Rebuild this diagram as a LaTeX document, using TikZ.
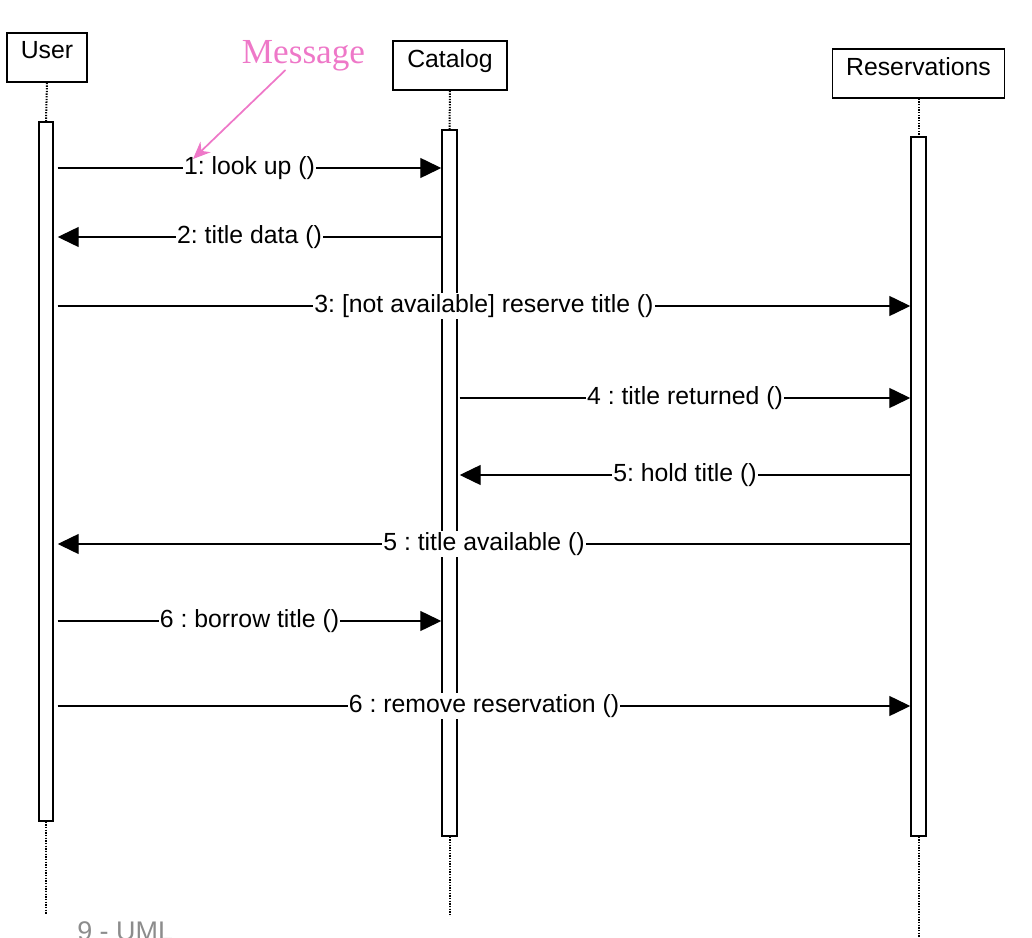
\documentclass[tikz,border=0pt]{standalone}
\usepackage{fontspec}
\setmainfont{Liberation Sans}
\newfontfamily\notefont{Liberation Serif}
\usetikzlibrary{arrows.meta}
\frenchspacing
\definecolor{notepink}{RGB}{238,120,200}
\definecolor{footgray}{RGB}{140,140,140}
\tikzset{
  objbox/.style={draw, line width=1.2pt, minimum height=36.75pt, inner sep=0pt},
  objtitle/.style={anchor=north, inner sep=0pt, yshift=-7pt, font=\fontsize{18.6}{22}\selectfont},
  actbar/.style={draw, fill=white, line width=1.1pt, inner sep=0pt},
  lifeline/.style={line width=1.5pt, dash pattern=on 1pt off 1pt},
  msg/.style={line width=1.05pt, -{Triangle[length=15.75pt,width=15pt]}},
  lbl/.style={fill=white, inner sep=1pt, font=\fontsize{18.6}{22}\selectfont},
  note/.style={draw=notepink, line width=1.3pt, -{Stealth[length=13pt,width=11pt]}}
}
\begin{document}
\begin{tikzpicture}[x=0.75pt,y=-0.75pt]
\useasboundingbox (0,0) rectangle (1032,938);
% objects
\node[objbox, minimum width=60pt] (user) at (47,57.5) {};
\node[objtitle] (usert) at (user.north) {User};
\node[objbox, minimum width=85.5pt] (cat) at (450,65.5) {};
\node[objtitle] (catt) at (cat.north) {Catalog};
\node[objbox, minimum width=129pt] (res) at (918.5,73.5) {};
\node[objtitle] (rest) at (res.north) {Reservations};
% activation bars
\node[actbar, minimum width=10.5pt, minimum height=524.25pt] (userbar) at (46,471.5) {};
\node[actbar, minimum width=11.25pt, minimum height=529.5pt] (catbar) at (449.5,483) {};
\node[actbar, minimum width=11.25pt, minimum height=524.25pt] (resbar) at (918.5,486.5) {};
% lifelines
\coordinate (userend) at (46,915);
\coordinate (catend) at (449.5,915);
\coordinate (resend) at (918.5,945);
\draw[lifeline] (user.south) -- (userbar.north);
\draw[lifeline] (userbar.south) -- (userend);
\draw[lifeline] (cat.south) -- (catbar.north);
\draw[lifeline] (catbar.south) -- (catend);
\draw[lifeline] (res.south) -- (resbar.north);
\draw[lifeline] (resbar.south) -- (resend);
% messages
\draw[msg] ([xshift=3pt]userbar.east |- 0,168) -- node[lbl] {1: look up ()} (catbar.west |- 0,168);
\draw[msg] (catbar.west |- 0,237) -- node[lbl] {2: title data ()} ([xshift=3pt]userbar.east |- 0,237);
\draw[msg] ([xshift=3pt]userbar.east |- 0,306) -- node[lbl] {3: [not available] reserve title ()} (resbar.west |- 0,306);
\draw[msg] ([xshift=1.5pt]catbar.east |- 0,398) -- node[lbl] {4 : title returned ()} (resbar.west |- 0,398);
\draw[msg] (resbar.west |- 0,475) -- node[lbl] {5: hold title ()} ([xshift=1.5pt]catbar.east |- 0,475);
\draw[msg] (resbar.west |- 0,544) -- node[lbl] {5 : title available ()} ([xshift=3pt]userbar.east |- 0,544);
\draw[msg] ([xshift=3pt]userbar.east |- 0,621) -- node[lbl] {6 : borrow title ()} (catbar.west |- 0,621);
\draw[msg] ([xshift=3pt]userbar.east |- 0,706) -- node[lbl] {6 : remove reservation ()} (resbar.west |- 0,706);
% annotation
\node[anchor=base, inner sep=0pt, text=notepink, font=\notefont\fontsize{26.4}{30}\selectfont] (msgnote) at (303.5,64) {Message};
\coordinate (msgtip) at (193,159);
\draw[note] ([xshift=-13.5pt,yshift=-4.5pt]msgnote.base) -- (msgtip);
% footer (cut off at the bottom edge, as in the reference)
\node[anchor=base west, inner sep=0pt, text=footgray, font=\fontsize{20.2}{24}\selectfont] (foot) at (77,940) {9 - UML};
\end{tikzpicture}
\end{document}
